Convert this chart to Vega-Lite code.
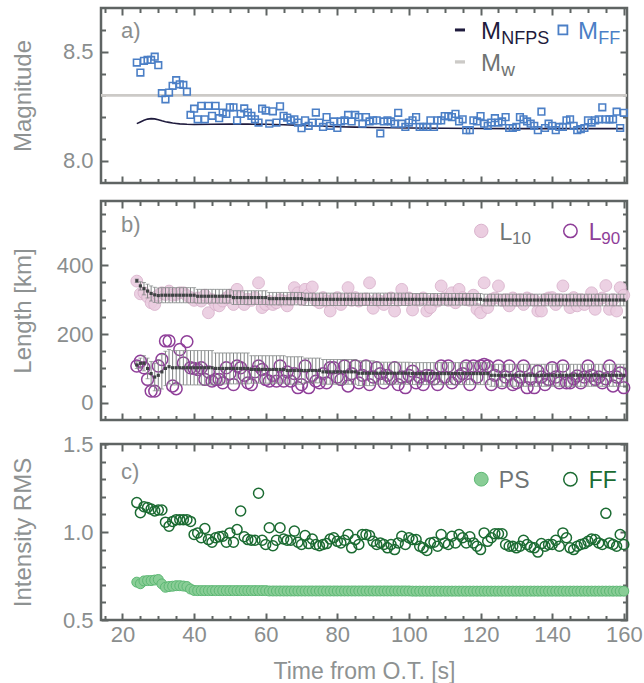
{
"$schema": "https://vega.github.io/schema/vega-lite/v6.json",
"padding": {"left": 9, "top": 5, "right": 5, "bottom": 2},
"config": {
  "font": "Liberation Sans",
  "view": {"stroke": "#5f6463", "strokeWidth": 2.5},
  "axis": {"domain": false, "grid": false, "ticks": true, "tickColor": "#5f6463", "tickWidth": 2, "labelColor": "#8a8e8e", "labelFontSize": 22, "titleColor": "#8e9292", "titleFontSize": 24, "titleFontWeight": "normal", "labelFlush": false, "labelOverlap": false}
},
"datasets": {
"one": [{"k": 1}],
"nfps": [{"t":24,"m":8.170},{"t":25,"m":8.178},{"t":26,"m":8.186},{"t":27,"m":8.191},{"t":28,"m":8.193},{"t":29,"m":8.192},{"t":30,"m":8.188},{"t":31,"m":8.183},{"t":32,"m":8.179},{"t":33,"m":8.176},{"t":34,"m":8.173},{"t":35,"m":8.171},{"t":36,"m":8.169},{"t":38,"m":8.167},{"t":40,"m":8.166},{"t":45,"m":8.167},{"t":50,"m":8.168},{"t":55,"m":8.168},{"t":60,"m":8.167},{"t":65,"m":8.165},{"t":70,"m":8.162},{"t":75,"m":8.159},{"t":80,"m":8.156},{"t":85,"m":8.154},{"t":90,"m":8.152},{"t":100,"m":8.150},{"t":110,"m":8.149},{"t":120,"m":8.148},{"t":130,"m":8.147},{"t":140,"m":8.147},{"t":150,"m":8.147},{"t":160,"m":8.147}],
"d": [
{"t":24,"mff":8.451,"l10":354,"l90":107,"m10":355,"e10":5,"m90":110,"e90":10,"ps":0.715,"ff":1.167},
{"t":25,"mff":8.405,"l10":317,"l90":121,"m10":340,"e10":12,"m90":115,"e90":15,"ps":0.706,"ff":1.110},
{"t":26,"mff":8.459,"l10":320,"l90":102,"m10":332,"e10":18,"m90":115,"e90":22,"ps":0.722,"ff":1.144},
{"t":27,"mff":8.463,"l10":308,"l90":68,"m10":325,"e10":20,"m90":100,"e90":30,"ps":0.724,"ff":1.139},
{"t":28,"mff":8.463,"l10":291,"l90":34,"m10":318,"e10":22,"m90":85,"e90":35,"ps":0.724,"ff":1.130},
{"t":29,"mff":8.478,"l10":286,"l90":34,"m10":314,"e10":22,"m90":75,"e90":40,"ps":0.727,"ff":1.120},
{"t":30,"mff":8.439,"l10":313,"l90":107,"m10":312,"e10":22,"m90":80,"e90":45,"ps":0.730,"ff":1.125},
{"t":31,"mff":8.310,"l10":320,"l90":126,"m10":313,"e10":22,"m90":90,"e90":50,"ps":0.705,"ff":1.125},
{"t":32,"mff":8.282,"l10":315,"l90":180,"m10":313,"e10":22,"m90":100,"e90":50,"ps":0.686,"ff":1.056},
{"t":33,"mff":8.313,"l10":325,"l90":180,"m10":313,"e10":22,"m90":105,"e90":50,"ps":0.690,"ff":1.033},
{"t":34,"mff":8.344,"l10":313,"l90":49,"m10":313,"e10":22,"m90":102,"e90":50,"ps":0.692,"ff":1.060},
{"t":35,"mff":8.370,"l10":315,"l90":41,"m10":313,"e10":22,"m90":102,"e90":50,"ps":0.695,"ff":1.070},
{"t":36,"mff":8.351,"l10":320,"l90":155,"m10":313,"e10":22,"m90":102,"e90":50,"ps":0.695,"ff":1.070},
{"t":37,"mff":8.348,"l10":320,"l90":116,"m10":313,"e10":22,"m90":102,"e90":50,"ps":0.693,"ff":1.070},
{"t":38,"mff":8.317,"l10":312,"l90":178,"m10":313,"e10":22,"m90":102,"e90":50,"ps":0.690,"ff":1.070},
{"t":39,"mff":8.210,"l10":306,"l90":102,"m10":313,"e10":22,"m90":102,"e90":50,"ps":0.676,"ff":1.060},
{"t":40,"mff":8.239,"l10":298,"l90":100,"m10":313,"e10":22,"m90":102,"e90":50,"ps":0.668,"ff":0.986},
{"t":41,"mff":8.190,"l10":305,"l90":97,"m10":310,"e10":20,"m90":102,"e90":50,"ps":0.667,"ff":0.995},
{"t":42,"mff":8.252,"l10":296,"l90":102,"m10":310,"e10":20,"m90":102,"e90":50,"ps":0.667,"ff":0.967},
{"t":43,"mff":8.190,"l10":313,"l90":68,"m10":310,"e10":20,"m90":102,"e90":50,"ps":0.667,"ff":1.020},
{"t":44,"mff":8.252,"l10":262,"l90":90,"m10":310,"e10":20,"m90":102,"e90":50,"ps":0.667,"ff":0.957},
{"t":45,"mff":8.206,"l10":300,"l90":63,"m10":310,"e10":20,"m90":102,"e90":50,"ps":0.667,"ff":0.942},
{"t":46,"mff":8.252,"l10":286,"l90":68,"m10":310,"e10":20,"m90":100,"e90":45,"ps":0.667,"ff":0.967},
{"t":47,"mff":8.195,"l10":282,"l90":68,"m10":310,"e10":20,"m90":100,"e90":45,"ps":0.667,"ff":0.973},
{"t":48,"mff":8.221,"l10":296,"l90":58,"m10":310,"e10":20,"m90":100,"e90":45,"ps":0.667,"ff":0.976},
{"t":49,"mff":8.215,"l10":305,"l90":102,"m10":310,"e10":20,"m90":100,"e90":45,"ps":0.667,"ff":0.942},
{"t":50,"mff":8.245,"l10":313,"l90":85,"m10":310,"e10":20,"m90":100,"e90":45,"ps":0.667,"ff":0.995},
{"t":51,"mff":8.245,"l10":286,"l90":53,"m10":306,"e10":20,"m90":100,"e90":45,"ps":0.667,"ff":0.942},
{"t":52,"mff":8.185,"l10":330,"l90":107,"m10":306,"e10":20,"m90":100,"e90":45,"ps":0.667,"ff":1.014},
{"t":53,"mff":8.215,"l10":306,"l90":102,"m10":306,"e10":20,"m90":100,"e90":45,"ps":0.667,"ff":1.119},
{"t":54,"mff":8.240,"l10":286,"l90":80,"m10":306,"e10":20,"m90":100,"e90":45,"ps":0.667,"ff":0.973},
{"t":55,"mff":8.221,"l10":301,"l90":58,"m10":306,"e10":20,"m90":100,"e90":45,"ps":0.667,"ff":0.957},
{"t":56,"mff":8.206,"l10":298,"l90":53,"m10":306,"e10":20,"m90":97,"e90":40,"ps":0.667,"ff":0.953},
{"t":57,"mff":8.190,"l10":306,"l90":90,"m10":306,"e10":20,"m90":97,"e90":40,"ps":0.667,"ff":0.953},
{"t":58,"mff":8.175,"l10":349,"l90":107,"m10":306,"e10":20,"m90":97,"e90":40,"ps":0.667,"ff":1.220},
{"t":59,"mff":8.239,"l10":277,"l90":97,"m10":306,"e10":20,"m90":97,"e90":40,"ps":0.667,"ff":0.953},
{"t":60,"mff":8.230,"l10":286,"l90":68,"m10":306,"e10":20,"m90":97,"e90":40,"ps":0.667,"ff":0.929},
{"t":61,"mff":8.170,"l10":295,"l90":63,"m10":303,"e10":18,"m90":97,"e90":40,"ps":0.665,"ff":1.024},
{"t":62,"mff":8.227,"l10":286,"l90":80,"m10":303,"e10":18,"m90":97,"e90":40,"ps":0.665,"ff":0.922},
{"t":63,"mff":8.175,"l10":291,"l90":63,"m10":303,"e10":18,"m90":97,"e90":40,"ps":0.665,"ff":0.953},
{"t":64,"mff":8.250,"l10":300,"l90":107,"m10":303,"e10":18,"m90":97,"e90":40,"ps":0.665,"ff":1.024},
{"t":65,"mff":8.206,"l10":296,"l90":63,"m10":303,"e10":18,"m90":97,"e90":40,"ps":0.665,"ff":0.960},
{"t":66,"mff":8.198,"l10":282,"l90":90,"m10":303,"e10":18,"m90":94,"e90":40,"ps":0.665,"ff":0.953},
{"t":67,"mff":8.185,"l10":300,"l90":63,"m10":303,"e10":18,"m90":94,"e90":40,"ps":0.665,"ff":0.953},
{"t":68,"mff":8.190,"l10":335,"l90":85,"m10":303,"e10":18,"m90":94,"e90":40,"ps":0.665,"ff":1.005},
{"t":69,"mff":8.175,"l10":320,"l90":44,"m10":303,"e10":18,"m90":94,"e90":40,"ps":0.665,"ff":0.942},
{"t":70,"mff":8.149,"l10":300,"l90":53,"m10":303,"e10":18,"m90":94,"e90":40,"ps":0.665,"ff":0.929},
{"t":71,"mff":8.185,"l10":330,"l90":107,"m10":301,"e10":18,"m90":94,"e90":36,"ps":0.665,"ff":0.980},
{"t":72,"mff":8.160,"l10":315,"l90":44,"m10":301,"e10":18,"m90":94,"e90":36,"ps":0.665,"ff":0.934},
{"t":73,"mff":8.175,"l10":337,"l90":80,"m10":301,"e10":18,"m90":94,"e90":36,"ps":0.665,"ff":0.960},
{"t":74,"mff":8.221,"l10":298,"l90":63,"m10":301,"e10":18,"m90":94,"e90":36,"ps":0.665,"ff":0.929},
{"t":75,"mff":8.175,"l10":291,"l90":58,"m10":301,"e10":18,"m90":94,"e90":36,"ps":0.665,"ff":0.922},
{"t":76,"mff":8.155,"l10":306,"l90":85,"m10":301,"e10":18,"m90":90,"e90":36,"ps":0.665,"ff":0.929},
{"t":77,"mff":8.200,"l10":295,"l90":58,"m10":301,"e10":18,"m90":90,"e90":36,"ps":0.665,"ff":0.934},
{"t":78,"mff":8.160,"l10":267,"l90":102,"m10":301,"e10":18,"m90":90,"e90":36,"ps":0.665,"ff":0.960},
{"t":79,"mff":8.180,"l10":300,"l90":102,"m10":301,"e10":18,"m90":90,"e90":36,"ps":0.665,"ff":0.967},
{"t":80,"mff":8.150,"l10":306,"l90":75,"m10":301,"e10":18,"m90":90,"e90":36,"ps":0.665,"ff":0.947},
{"t":81,"mff":8.180,"l10":286,"l90":68,"m10":301,"e10":18,"m90":90,"e90":36,"ps":0.665,"ff":0.938},
{"t":82,"mff":8.185,"l10":300,"l90":107,"m10":301,"e10":18,"m90":90,"e90":36,"ps":0.665,"ff":0.953},
{"t":83,"mff":8.210,"l10":335,"l90":49,"m10":301,"e10":18,"m90":90,"e90":36,"ps":0.665,"ff":0.986},
{"t":84,"mff":8.180,"l10":298,"l90":85,"m10":301,"e10":18,"m90":90,"e90":36,"ps":0.665,"ff":0.910},
{"t":85,"mff":8.210,"l10":306,"l90":107,"m10":301,"e10":18,"m90":90,"e90":36,"ps":0.665,"ff":0.957},
{"t":86,"mff":8.200,"l10":296,"l90":58,"m10":301,"e10":18,"m90":86,"e90":36,"ps":0.665,"ff":0.929},
{"t":87,"mff":8.170,"l10":300,"l90":80,"m10":301,"e10":18,"m90":86,"e90":36,"ps":0.665,"ff":0.986},
{"t":88,"mff":8.200,"l10":302,"l90":107,"m10":301,"e10":18,"m90":86,"e90":36,"ps":0.665,"ff":0.986},
{"t":89,"mff":8.180,"l10":349,"l90":53,"m10":301,"e10":18,"m90":86,"e90":36,"ps":0.665,"ff":0.980},
{"t":90,"mff":8.185,"l10":275,"l90":75,"m10":301,"e10":18,"m90":86,"e90":36,"ps":0.665,"ff":0.947},
{"t":91,"mff":8.185,"l10":300,"l90":102,"m10":301,"e10":18,"m90":86,"e90":32,"ps":0.665,"ff":0.929},
{"t":92,"mff":8.125,"l10":295,"l90":85,"m10":301,"e10":18,"m90":86,"e90":32,"ps":0.665,"ff":0.938},
{"t":93,"mff":8.180,"l10":286,"l90":58,"m10":301,"e10":18,"m90":86,"e90":32,"ps":0.665,"ff":0.929},
{"t":94,"mff":8.185,"l10":300,"l90":80,"m10":301,"e10":18,"m90":86,"e90":32,"ps":0.665,"ff":0.910},
{"t":95,"mff":8.180,"l10":305,"l90":70,"m10":301,"e10":18,"m90":86,"e90":32,"ps":0.665,"ff":0.929},
{"t":96,"mff":8.170,"l10":267,"l90":102,"m10":301,"e10":18,"m90":86,"e90":32,"ps":0.665,"ff":0.900},
{"t":97,"mff":8.220,"l10":298,"l90":53,"m10":301,"e10":18,"m90":86,"e90":32,"ps":0.665,"ff":0.938},
{"t":98,"mff":8.170,"l10":330,"l90":75,"m10":301,"e10":18,"m90":86,"e90":32,"ps":0.665,"ff":0.976},
{"t":99,"mff":8.155,"l10":300,"l90":44,"m10":301,"e10":18,"m90":86,"e90":32,"ps":0.665,"ff":0.929},
{"t":100,"mff":8.175,"l10":305,"l90":80,"m10":301,"e10":18,"m90":86,"e90":32,"ps":0.665,"ff":0.967},
{"t":101,"mff":8.185,"l10":270,"l90":92,"m10":301,"e10":17,"m90":85,"e90":32,"ps":0.664,"ff":0.957},
{"t":102,"mff":8.200,"l10":300,"l90":58,"m10":301,"e10":17,"m90":85,"e90":32,"ps":0.664,"ff":0.957},
{"t":103,"mff":8.155,"l10":298,"l90":75,"m10":301,"e10":17,"m90":85,"e90":32,"ps":0.664,"ff":0.919},
{"t":104,"mff":8.155,"l10":305,"l90":53,"m10":301,"e10":17,"m90":85,"e90":32,"ps":0.664,"ff":0.910},
{"t":105,"mff":8.155,"l10":267,"l90":80,"m10":301,"e10":17,"m90":85,"e90":32,"ps":0.664,"ff":0.895},
{"t":106,"mff":8.185,"l10":277,"l90":78,"m10":301,"e10":17,"m90":85,"e90":32,"ps":0.664,"ff":0.938},
{"t":107,"mff":8.155,"l10":300,"l90":70,"m10":301,"e10":17,"m90":85,"e90":32,"ps":0.664,"ff":0.942},
{"t":108,"mff":8.185,"l10":296,"l90":53,"m10":301,"e10":17,"m90":85,"e90":32,"ps":0.664,"ff":0.919},
{"t":109,"mff":8.185,"l10":340,"l90":107,"m10":301,"e10":17,"m90":85,"e90":32,"ps":0.664,"ff":0.986},
{"t":110,"mff":8.205,"l10":305,"l90":75,"m10":301,"e10":17,"m90":85,"e90":32,"ps":0.664,"ff":0.938},
{"t":111,"mff":8.205,"l10":298,"l90":107,"m10":301,"e10":17,"m90":85,"e90":32,"ps":0.664,"ff":0.929},
{"t":112,"mff":8.200,"l10":320,"l90":58,"m10":301,"e10":17,"m90":85,"e90":32,"ps":0.664,"ff":0.976},
{"t":113,"mff":8.215,"l10":291,"l90":70,"m10":301,"e10":17,"m90":85,"e90":32,"ps":0.664,"ff":0.938},
{"t":114,"mff":8.180,"l10":330,"l90":78,"m10":301,"e10":17,"m90":85,"e90":32,"ps":0.664,"ff":0.986},
{"t":115,"mff":8.190,"l10":306,"l90":85,"m10":301,"e10":17,"m90":85,"e90":32,"ps":0.664,"ff":0.967},
{"t":116,"mff":8.140,"l10":300,"l90":107,"m10":301,"e10":17,"m90":85,"e90":32,"ps":0.664,"ff":0.938},
{"t":117,"mff":8.140,"l10":298,"l90":53,"m10":301,"e10":17,"m90":85,"e90":32,"ps":0.664,"ff":0.973},
{"t":118,"mff":8.185,"l10":313,"l90":107,"m10":301,"e10":17,"m90":85,"e90":32,"ps":0.664,"ff":0.938},
{"t":119,"mff":8.180,"l10":272,"l90":75,"m10":301,"e10":17,"m90":85,"e90":32,"ps":0.664,"ff":0.919},
{"t":120,"mff":8.205,"l10":262,"l90":107,"m10":301,"e10":17,"m90":85,"e90":32,"ps":0.664,"ff":0.900},
{"t":121,"mff":8.170,"l10":349,"l90":112,"m10":299,"e10":17,"m90":85,"e90":32,"ps":0.664,"ff":0.995},
{"t":122,"mff":8.160,"l10":277,"l90":107,"m10":299,"e10":17,"m90":85,"e90":32,"ps":0.664,"ff":0.947},
{"t":123,"mff":8.175,"l10":300,"l90":53,"m10":299,"e10":17,"m90":80,"e90":32,"ps":0.664,"ff":0.967},
{"t":124,"mff":8.195,"l10":305,"l90":80,"m10":299,"e10":17,"m90":80,"e90":32,"ps":0.664,"ff":0.990},
{"t":125,"mff":8.175,"l10":340,"l90":107,"m10":299,"e10":17,"m90":80,"e90":32,"ps":0.664,"ff":0.990},
{"t":126,"mff":8.180,"l10":298,"l90":58,"m10":299,"e10":17,"m90":80,"e90":32,"ps":0.664,"ff":0.990},
{"t":127,"mff":8.200,"l10":300,"l90":75,"m10":299,"e10":17,"m90":80,"e90":32,"ps":0.664,"ff":0.929},
{"t":128,"mff":8.150,"l10":282,"l90":107,"m10":299,"e10":17,"m90":80,"e90":32,"ps":0.664,"ff":0.919},
{"t":129,"mff":8.150,"l10":305,"l90":53,"m10":299,"e10":17,"m90":80,"e90":32,"ps":0.664,"ff":0.919},
{"t":130,"mff":8.155,"l10":298,"l90":58,"m10":299,"e10":17,"m90":80,"e90":32,"ps":0.664,"ff":0.910},
{"t":131,"mff":8.200,"l10":300,"l90":75,"m10":299,"e10":17,"m90":80,"e90":32,"ps":0.664,"ff":0.919},
{"t":132,"mff":8.190,"l10":286,"l90":107,"m10":299,"e10":17,"m90":80,"e90":32,"ps":0.664,"ff":0.953},
{"t":133,"mff":8.180,"l10":305,"l90":44,"m10":299,"e10":17,"m90":80,"e90":32,"ps":0.664,"ff":0.929},
{"t":134,"mff":8.170,"l10":300,"l90":70,"m10":299,"e10":17,"m90":80,"e90":32,"ps":0.664,"ff":0.915},
{"t":135,"mff":8.160,"l10":298,"l90":44,"m10":299,"e10":17,"m90":80,"e90":32,"ps":0.664,"ff":0.910},
{"t":136,"mff":8.140,"l10":267,"l90":92,"m10":299,"e10":17,"m90":80,"e90":32,"ps":0.664,"ff":0.886},
{"t":137,"mff":8.225,"l10":267,"l90":75,"m10":299,"e10":17,"m90":80,"e90":32,"ps":0.664,"ff":0.934},
{"t":138,"mff":8.150,"l10":300,"l90":53,"m10":299,"e10":17,"m90":80,"e90":32,"ps":0.664,"ff":0.919},
{"t":139,"mff":8.170,"l10":305,"l90":68,"m10":299,"e10":17,"m90":80,"e90":32,"ps":0.664,"ff":0.929},
{"t":140,"mff":8.160,"l10":306,"l90":102,"m10":299,"e10":17,"m90":80,"e90":32,"ps":0.664,"ff":0.929},
{"t":141,"mff":8.140,"l10":286,"l90":75,"m10":299,"e10":17,"m90":80,"e90":32,"ps":0.664,"ff":0.953},
{"t":142,"mff":8.155,"l10":300,"l90":58,"m10":299,"e10":17,"m90":80,"e90":32,"ps":0.664,"ff":0.919},
{"t":143,"mff":8.155,"l10":340,"l90":107,"m10":299,"e10":17,"m90":80,"e90":32,"ps":0.664,"ff":0.995},
{"t":144,"mff":8.185,"l10":298,"l90":58,"m10":299,"e10":17,"m90":80,"e90":32,"ps":0.664,"ff":0.967},
{"t":145,"mff":8.190,"l10":277,"l90":58,"m10":299,"e10":17,"m90":80,"e90":32,"ps":0.664,"ff":0.910},
{"t":146,"mff":8.160,"l10":306,"l90":70,"m10":299,"e10":17,"m90":80,"e90":32,"ps":0.664,"ff":0.900},
{"t":147,"mff":8.140,"l10":282,"l90":78,"m10":299,"e10":17,"m90":80,"e90":32,"ps":0.664,"ff":0.919},
{"t":148,"mff":8.145,"l10":300,"l90":58,"m10":299,"e10":17,"m90":80,"e90":32,"ps":0.664,"ff":0.929},
{"t":149,"mff":8.150,"l10":286,"l90":75,"m10":299,"e10":17,"m90":80,"e90":32,"ps":0.664,"ff":0.934},
{"t":150,"mff":8.185,"l10":298,"l90":107,"m10":299,"e10":17,"m90":80,"e90":32,"ps":0.664,"ff":0.947},
{"t":151,"mff":8.175,"l10":320,"l90":80,"m10":299,"e10":17,"m90":80,"e90":32,"ps":0.664,"ff":0.960},
{"t":152,"mff":8.185,"l10":272,"l90":68,"m10":299,"e10":17,"m90":80,"e90":32,"ps":0.664,"ff":0.957},
{"t":153,"mff":8.190,"l10":300,"l90":75,"m10":299,"e10":17,"m90":80,"e90":32,"ps":0.664,"ff":0.938},
{"t":154,"mff":8.245,"l10":305,"l90":58,"m10":299,"e10":17,"m90":80,"e90":32,"ps":0.664,"ff":0.929},
{"t":155,"mff":8.190,"l10":341,"l90":70,"m10":299,"e10":17,"m90":80,"e90":32,"ps":0.664,"ff":1.106},
{"t":156,"mff":8.190,"l10":272,"l90":107,"m10":299,"e10":17,"m90":80,"e90":32,"ps":0.664,"ff":0.938},
{"t":157,"mff":8.190,"l10":300,"l90":49,"m10":299,"e10":17,"m90":80,"e90":32,"ps":0.664,"ff":0.929},
{"t":158,"mff":8.225,"l10":267,"l90":75,"m10":299,"e10":17,"m90":80,"e90":32,"ps":0.664,"ff":0.919},
{"t":159,"mff":8.150,"l10":335,"l90":87,"m10":299,"e10":17,"m90":80,"e90":32,"ps":0.664,"ff":0.986},
{"t":160,"mff":8.220,"l10":313,"l90":44,"m10":299,"e10":17,"m90":80,"e90":32,"ps":0.664,"ff":0.929}
]
},
"spacing": 8,
"vconcat": [
{
  "width": 526, "height": 175,
  "resolve": {"axis": {"x": "independent", "y": "independent"}},
  "layer": [
    {"data": {"name": "one"}, "mark": {"type": "rule", "color": "#cccac7", "strokeWidth": 2.8},
     "encoding": {"y": {"datum": 8.3, "type": "quantitative", "scale": {"domain": [7.897, 8.702], "nice": false, "zero": false},
       "axis": {"orient": "left", "values": [8.0, 8.5], "format": ".1f", "tickSize": -7, "labelPadding": 15, "title": "Magnitude", "titleX": -66, "titleBaseline": "bottom", "titleAngle": 270}}}},
    {"data": {"name": "nfps"}, "mark": {"type": "line", "color": "#1f1b3d", "strokeWidth": 1.6},
     "encoding": {
       "x": {"field": "t", "type": "quantitative", "scale": {"domain": [14, 160.9], "nice": false, "zero": false}, "axis": {"orient": "bottom", "values": [20,40,60,80,100,120,140,160], "tickSize": -7, "labels": false, "title": null, "minExtent": 5}},
       "y": {"field": "m", "type": "quantitative", "scale": {"domain": [7.897, 8.702], "nice": false, "zero": false}, "axis": {"orient": "left", "values": [8.1,8.2,8.3,8.4,8.6], "tickSize": -4.5, "labels": false, "title": null}}}},
    {"data": {"name": "d"}, "mark": {"type": "point", "shape": "square", "filled": false, "size": 44, "strokeWidth": 1.6, "color": "#4b7fc6", "opacity": 1},
     "encoding": {
       "x": {"field": "t", "type": "quantitative", "scale": {"domain": [14, 160.9], "nice": false, "zero": false}, "axis": {"orient": "bottom", "values": [15,25,30,35,45,50,55,65,70,75,85,90,95,105,110,115,125,130,135,145,150,155], "tickSize": -4.5, "labels": false, "title": null}},
       "y": {"field": "mff", "type": "quantitative", "scale": {"domain": [7.897, 8.702], "nice": false, "zero": false}, "axis": {"orient": "right", "values": [8.0, 8.5], "tickSize": -7, "labels": false, "title": null}}}},
    {"data": {"name": "one"}, "mark": {"type": "rule", "color": "#1f1b3d", "strokeWidth": 3},
     "encoding": {
       "x": {"datum": 112.85, "type": "quantitative", "scale": {"domain": [14, 160.9], "nice": false, "zero": false}, "axis": {"orient": "top", "values": [20,40,60,80,100,120,140,160], "tickSize": -7, "labels": false, "title": null}},
       "x2": {"datum": 115.65},
       "y": {"datum": 8.601, "type": "quantitative", "scale": {"domain": [7.897, 8.702], "nice": false, "zero": false}, "axis": {"orient": "right", "values": [8.1,8.2,8.3,8.4,8.6], "tickSize": -4.5, "labels": false, "title": null}}}},
    {"data": {"name": "one"}, "mark": {"type": "text", "text": "M", "align": "left", "baseline": "alphabetic", "fontSize": 24, "color": "#1f1b3d"},
     "encoding": {
       "x": {"datum": 120.1, "type": "quantitative", "axis": {"orient": "top", "values": [15,25,30,35,45,50,55,65,70,75,85,90,95,105,110,115,125,130,135,145,150,155], "tickSize": -4.5, "labels": false, "title": null}},
       "y": {"datum": 8.558, "type": "quantitative", "axis": null}}},
    {"data": {"name": "one"}, "mark": {"type": "text", "text": "NFPS", "align": "left", "baseline": "alphabetic", "fontSize": 18, "color": "#1f1b3d"},
     "encoding": {"x": {"datum": 125.8, "type": "quantitative", "axis": null}, "y": {"datum": 8.538, "type": "quantitative", "axis": null}}},
    {"data": {"name": "one"}, "mark": {"type": "point", "shape": "square", "filled": false, "size": 80, "strokeWidth": 1.8, "color": "#4b7fc6", "opacity": 1},
     "encoding": {"x": {"datum": 143.0, "type": "quantitative", "axis": null}, "y": {"datum": 8.601, "type": "quantitative", "axis": null}}},
    {"data": {"name": "one"}, "mark": {"type": "text", "text": "M", "align": "left", "baseline": "alphabetic", "fontSize": 24, "color": "#4b7fc6"},
     "encoding": {"x": {"datum": 147.2, "type": "quantitative", "axis": null}, "y": {"datum": 8.558, "type": "quantitative", "axis": null}}},
    {"data": {"name": "one"}, "mark": {"type": "text", "text": "FF", "align": "left", "baseline": "alphabetic", "fontSize": 18, "color": "#4b7fc6"},
     "encoding": {"x": {"datum": 152.9, "type": "quantitative", "axis": null}, "y": {"datum": 8.538, "type": "quantitative", "axis": null}}},
    {"data": {"name": "one"}, "mark": {"type": "rule", "color": "#cccac7", "strokeWidth": 3.3},
     "encoding": {"x": {"datum": 112.85, "type": "quantitative", "axis": null}, "x2": {"datum": 115.65}, "y": {"datum": 8.454, "type": "quantitative", "axis": null}}},
    {"data": {"name": "one"}, "mark": {"type": "text", "text": "M", "align": "left", "baseline": "alphabetic", "fontSize": 24, "color": "#6f7473"},
     "encoding": {"x": {"datum": 120.1, "type": "quantitative", "axis": null}, "y": {"datum": 8.413, "type": "quantitative", "axis": null}}},
    {"data": {"name": "one"}, "mark": {"type": "text", "text": "w", "align": "left", "baseline": "alphabetic", "fontSize": 19, "color": "#6f7473"},
     "encoding": {"x": {"datum": 125.8, "type": "quantitative", "axis": null}, "y": {"datum": 8.39, "type": "quantitative", "axis": null}}},
    {"data": {"name": "one"}, "mark": {"type": "text", "text": "a)", "align": "left", "baseline": "alphabetic", "fontSize": 22, "color": "#8a8e8e"},
     "encoding": {"x": {"datum": 19.6, "type": "quantitative", "axis": null}, "y": {"datum": 8.563, "type": "quantitative", "axis": null}}}
  ]
},
{
  "width": 526, "height": 219,
  "resolve": {"axis": {"x": "independent", "y": "independent"}},
  "layer": [
    {"data": {"name": "d"}, "mark": {"type": "point", "shape": "circle", "filled": true, "size": 140, "fill": "#ebcde0", "stroke": "#dab3cd", "strokeWidth": 1, "opacity": 0.9},
     "encoding": {
       "x": {"field": "t", "type": "quantitative", "scale": {"domain": [14, 160.9], "nice": false, "zero": false}, "axis": {"orient": "bottom", "values": [20,40,60,80,100,120,140,160], "tickSize": -7, "labels": false, "title": null}},
       "y": {"field": "l10", "type": "quantitative", "scale": {"domain": [-50, 587], "nice": false, "zero": false}, "axis": {"orient": "left", "values": [0, 200, 400], "format": "d", "tickSize": -7, "labelPadding": 15, "title": "Length [km]", "titleX": -66, "titleBaseline": "bottom", "titleAngle": 270}}}},
    {"data": {"name": "d"}, "mark": {"type": "point", "shape": "circle", "filled": false, "size": 140, "color": "#8f3f99", "strokeWidth": 1.5, "opacity": 1},
     "encoding": {
       "x": {"field": "t", "type": "quantitative", "scale": {"domain": [14, 160.9], "nice": false, "zero": false}, "axis": {"orient": "bottom", "values": [15,25,30,35,45,50,55,65,70,75,85,90,95,105,110,115,125,130,135,145,150,155], "tickSize": -4.5, "labels": false, "title": null}},
       "y": {"field": "l90", "type": "quantitative", "scale": {"domain": [-50, 587], "nice": false, "zero": false}, "axis": {"orient": "left", "values": [50,100,150,250,300,350,450,500,550], "tickSize": -4.5, "labels": false, "title": null}}}},
    {"data": {"name": "d"}, "mark": {"type": "errorbar", "ticks": true, "size": 4, "thickness": 1, "color": "#7f8383"},
     "encoding": {
       "x": {"field": "t", "type": "quantitative", "axis": null},
       "y": {"field": "m10", "type": "quantitative", "axis": null},
       "yError": {"field": "e10"}}},
    {"data": {"name": "d"}, "mark": {"type": "errorbar", "ticks": true, "size": 4, "thickness": 1, "color": "#7f8383"},
     "encoding": {
       "x": {"field": "t", "type": "quantitative", "axis": null},
       "y": {"field": "m90", "type": "quantitative", "axis": null},
       "yError": {"field": "e90"}}},
    {"data": {"name": "d"}, "mark": {"type": "square", "size": 10, "color": "#3d4242", "opacity": 1},
     "encoding": {
       "x": {"field": "t", "type": "quantitative", "scale": {"domain": [14, 160.9], "nice": false, "zero": false}, "axis": {"orient": "top", "values": [20,40,60,80,100,120,140,160], "tickSize": -7, "labels": false, "title": null}},
       "y": {"field": "m10", "type": "quantitative", "scale": {"domain": [-50, 587], "nice": false, "zero": false}, "axis": {"orient": "right", "values": [0, 200, 400], "tickSize": -7, "labels": false, "title": null}}}},
    {"data": {"name": "d"}, "mark": {"type": "square", "size": 10, "color": "#3d4242", "opacity": 1},
     "encoding": {
       "x": {"field": "t", "type": "quantitative", "axis": {"orient": "top", "values": [15,25,30,35,45,50,55,65,70,75,85,90,95,105,110,115,125,130,135,145,150,155], "tickSize": -4.5, "labels": false, "title": null}},
       "y": {"field": "m90", "type": "quantitative", "axis": {"orient": "right", "values": [50,100,150,250,300,350,450,500,550], "tickSize": -4.5, "labels": false, "title": null}}}},
    {"data": {"name": "one"}, "mark": {"type": "point", "shape": "circle", "filled": true, "size": 180, "fill": "#ebcde0", "stroke": "#dab3cd", "strokeWidth": 1, "opacity": 1},
     "encoding": {"x": {"datum": 120.2, "type": "quantitative", "axis": null}, "y": {"datum": 500, "type": "quantitative", "axis": null}}},
    {"data": {"name": "one"}, "mark": {"type": "text", "text": "L", "align": "left", "baseline": "alphabetic", "fontSize": 23, "color": "#707575"},
     "encoding": {"x": {"datum": 125.3, "type": "quantitative", "axis": null}, "y": {"datum": 473, "type": "quantitative", "axis": null}}},
    {"data": {"name": "one"}, "mark": {"type": "text", "text": "10", "align": "left", "baseline": "alphabetic", "fontSize": 17, "color": "#707575"},
     "encoding": {"x": {"datum": 128.8, "type": "quantitative", "axis": null}, "y": {"datum": 461, "type": "quantitative", "axis": null}}},
    {"data": {"name": "one"}, "mark": {"type": "point", "shape": "circle", "filled": false, "size": 180, "color": "#8f3f99", "strokeWidth": 1.5, "opacity": 1},
     "encoding": {"x": {"datum": 145.1, "type": "quantitative", "axis": null}, "y": {"datum": 500, "type": "quantitative", "axis": null}}},
    {"data": {"name": "one"}, "mark": {"type": "text", "text": "L", "align": "left", "baseline": "alphabetic", "fontSize": 23, "color": "#8f3f99"},
     "encoding": {"x": {"datum": 150.2, "type": "quantitative", "axis": null}, "y": {"datum": 473, "type": "quantitative", "axis": null}}},
    {"data": {"name": "one"}, "mark": {"type": "text", "text": "90", "align": "left", "baseline": "alphabetic", "fontSize": 17, "color": "#8f3f99"},
     "encoding": {"x": {"datum": 153.7, "type": "quantitative", "axis": null}, "y": {"datum": 461, "type": "quantitative", "axis": null}}},
    {"data": {"name": "one"}, "mark": {"type": "text", "text": "b)", "align": "left", "baseline": "alphabetic", "fontSize": 22, "color": "#8a8e8e"},
     "encoding": {"x": {"datum": 19.6, "type": "quantitative", "axis": null}, "y": {"datum": 498, "type": "quantitative", "axis": null}}}
  ]
},
{
  "width": 526, "height": 176,
  "resolve": {"axis": {"x": "independent", "y": "independent"}},
  "layer": [
    {"data": {"name": "d"}, "mark": {"type": "point", "shape": "circle", "filled": true, "size": 100, "fill": "#89cd96", "stroke": "#5db874", "strokeWidth": 1, "opacity": 1},
     "encoding": {
       "x": {"field": "t", "type": "quantitative", "scale": {"domain": [14, 160.9], "nice": false, "zero": false}, "axis": {"orient": "bottom", "values": [20,40,60,80,100,120,140,160], "format": "d", "tickSize": -7, "labelPadding": 11, "title": "Time from O.T. [s]", "titleFontSize": 23, "titleY": 58, "titleBaseline": "alphabetic"}},
       "y": {"field": "ps", "type": "quantitative", "scale": {"domain": [0.5, 1.5], "nice": false, "zero": false}, "axis": {"orient": "left", "values": [0.5, 1.0, 1.5], "format": ".1f", "tickSize": -7, "labelPadding": 15, "title": "Intensity RMS", "titleX": -66, "titleBaseline": "bottom", "titleAngle": 270}}}},
    {"data": {"name": "d"}, "mark": {"type": "point", "shape": "circle", "filled": false, "size": 100, "color": "#1b6b32", "strokeWidth": 1.5, "opacity": 1},
     "encoding": {
       "x": {"field": "t", "type": "quantitative", "scale": {"domain": [14, 160.9], "nice": false, "zero": false}, "axis": {"orient": "bottom", "values": [15,25,30,35,45,50,55,65,70,75,85,90,95,105,110,115,125,130,135,145,150,155], "tickSize": -4.5, "labels": false, "title": null}},
       "y": {"field": "ff", "type": "quantitative", "scale": {"domain": [0.5, 1.5], "nice": false, "zero": false}, "axis": {"orient": "left", "values": [0.6,0.7,0.8,0.9,1.1,1.2,1.3,1.4], "tickSize": -4.5, "labels": false, "title": null}}}},
    {"data": {"name": "one"}, "mark": {"type": "point", "shape": "circle", "filled": true, "size": 190, "fill": "#89cd96", "stroke": "#5db874", "strokeWidth": 1, "opacity": 1},
     "encoding": {
       "x": {"datum": 120.2, "type": "quantitative", "axis": {"orient": "top", "values": [20,40,60,80,100,120,140,160], "tickSize": -7, "labels": false, "title": null}},
       "y": {"datum": 1.30, "type": "quantitative", "axis": {"orient": "right", "values": [0.5, 1.0, 1.5], "tickSize": -7, "labels": false, "title": null}}}},
    {"data": {"name": "one"}, "mark": {"type": "point", "shape": "circle", "filled": false, "size": 180, "color": "#1b6b32", "strokeWidth": 1.5, "opacity": 1},
     "encoding": {
       "x": {"datum": 145.1, "type": "quantitative", "axis": {"orient": "top", "values": [15,25,30,35,45,50,55,65,70,75,85,90,95,105,110,115,125,130,135,145,150,155], "tickSize": -4.5, "labels": false, "title": null}},
       "y": {"datum": 1.30, "type": "quantitative", "axis": {"orient": "right", "values": [0.6,0.7,0.8,0.9,1.1,1.2,1.3,1.4], "tickSize": -4.5, "labels": false, "title": null}}}},
    {"data": {"name": "one"}, "mark": {"type": "text", "text": "PS", "align": "left", "baseline": "alphabetic", "fontSize": 23, "color": "#707575"},
     "encoding": {"x": {"datum": 125.1, "type": "quantitative", "axis": null}, "y": {"datum": 1.252, "type": "quantitative", "axis": null}}},
    {"data": {"name": "one"}, "mark": {"type": "text", "text": "FF", "align": "left", "baseline": "alphabetic", "fontSize": 23, "color": "#1b6b32"},
     "encoding": {"x": {"datum": 150.2, "type": "quantitative", "axis": null}, "y": {"datum": 1.252, "type": "quantitative", "axis": null}}},
    {"data": {"name": "one"}, "mark": {"type": "text", "text": "c)", "align": "left", "baseline": "alphabetic", "fontSize": 22, "color": "#8a8e8e"},
     "encoding": {"x": {"datum": 19.6, "type": "quantitative", "axis": null}, "y": {"datum": 1.30, "type": "quantitative", "axis": null}}}
  ]
}
]
}
